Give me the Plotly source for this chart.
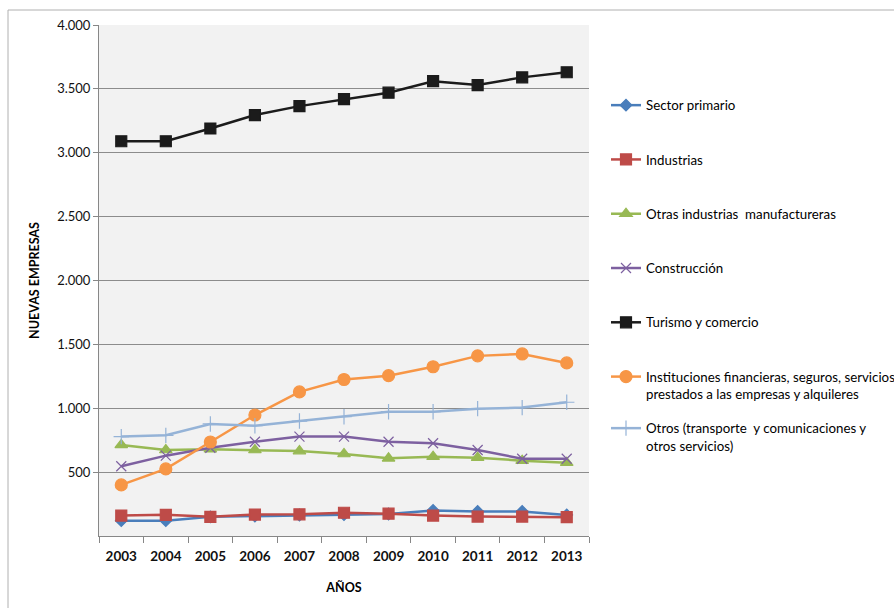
import plotly.graph_objects as go

years = ["2003", "2004", "2005", "2006", "2007", "2008", "2009", "2010", "2011", "2012", "2013"]

sector_primario = [120, 120, 150, 157, 164, 167, 172, 200, 192, 192, 165]
industrias = [160, 166, 150, 168, 170, 182, 175, 160, 152, 152, 147]
otras_industrias = [713, 673, 679, 673, 665, 642, 608, 621, 613, 590, 574]
construccion = [546, 629, 691, 738, 778, 778, 738, 726, 673, 605, 605]
turismo = [3090, 3090, 3190, 3295, 3365, 3420, 3470, 3560, 3530, 3590, 3630]
instituciones = [400, 525, 736, 947, 1128, 1225, 1255, 1325, 1410, 1425, 1355]
otros = [778, 788, 877, 863, 900, 934, 973, 973, 997, 1005, 1047]

y_ticks = [500, 1000, 1500, 2000, 2500, 3000, 3500, 4000]

series = [
    ("Sector primario", sector_primario, "#4A7EBB", "diamond", 9, "legend"),
    ("Industrias", industrias, "#BE4B48", "square", 11, "legend"),
    ("Otras industrias  manufactureras", otras_industrias, "#98B954", "triangle-up", 11, "legend"),
    ("Construcción", construccion, "#7D60A0", "x-thin-open", 10, "legend"),
    ("Turismo y comercio", turismo, "#1B1B1B", "square", 11, "legend"),
    ("Instituciones financieras, seguros, servicios<br>prestados a las empresas y alquileres",
     instituciones, "#F79646", "circle", 12, "legend"),
    ("Otros (transporte  y comunicaciones y<br>otros servicios)", otros, "#95B3D7", "cross-thin-open", 11, "legend2"),
]

fig = go.Figure()
for i, (name, vals, color, sym, size, leg) in enumerate(series):
    fig.add_trace(go.Scatter(
        x=years, y=vals, name=name, mode="lines+markers",
        line=dict(color=color, width=2.5),
        marker=dict(symbol=sym, size=size, color=color,
                    line=dict(color=color, width=1.2)),
        legendgroup=f"g{i}", legend=leg,
    ))

W, H = 894, 608
L, R, T, B = 99, 894 - 589, 25, 608 - 536
pw, ph = W - L - R, H - T - B

def px_x(x):
    return (x - L) / pw

def px_y(y):
    return (H - B - y) / ph

legend_font = dict(family="Lato, 'Noto Sans', sans-serif", size=13.3, color="#000000")

fig.update_layout(
    width=W, height=H,
    margin=dict(l=L, r=R, t=T, b=B, autoexpand=False),
    paper_bgcolor="white",
    plot_bgcolor="#F2F2F2",
    separators=",.",
    font=dict(family="Lato, 'Noto Sans', sans-serif", size=13, color="#000000"),
    showlegend=True,
    legend=dict(
        x=px_x(606), xanchor="left", y=px_y(90), yanchor="top",
        font=legend_font, traceorder="grouped", tracegroupgap=34,
        valign="top", bgcolor="rgba(0,0,0,0)", itemwidth=30,
    ),
    legend2=dict(
        x=px_x(606), xanchor="left", y=px_y(413), yanchor="top",
        font=legend_font, valign="top", bgcolor="rgba(0,0,0,0)", itemwidth=30,
    ),
    xaxis=dict(
        type="category", range=[-0.5, 10.5], tickson="boundaries", ticks="outside", ticklen=6,
        tickcolor="#878787", showline=True, linecolor="#878787", linewidth=1,
        showgrid=False, zeroline=False, ticklabelstandoff=8,
        tickfont=dict(family="Lato, 'Noto Sans', sans-serif", size=13.5, color="#111111", weight="bold"),
        title=dict(text="<b>AÑOS</b>", font=dict(size=12.5), standoff=20),
    ),
    yaxis=dict(
        range=[0, 4000], tickvals=y_ticks, tickformat=",d",
        ticks="outside", ticklen=5, tickcolor="#878787",
        showline=True, linecolor="#878787", linewidth=1,
        showgrid=True, gridcolor="#8C8C8C", gridwidth=1, zeroline=False,
        tickfont=dict(family="Lato, 'Noto Sans', sans-serif", size=13, color="#111111"),
        title=dict(text="<b>NUEVAS EMPRESAS</b>", font=dict(size=12.5), standoff=14),
    ),
    shapes=[dict(
        type="rect", xref="paper", yref="paper", layer="below",
        x0=px_x(8), x1=px_x(1100), y0=px_y(900), y1=px_y(10),
        line=dict(color="#B0B0B0", width=1), fillcolor="rgba(0,0,0,0)",
    )],
)

fig.write_html("out.html")
